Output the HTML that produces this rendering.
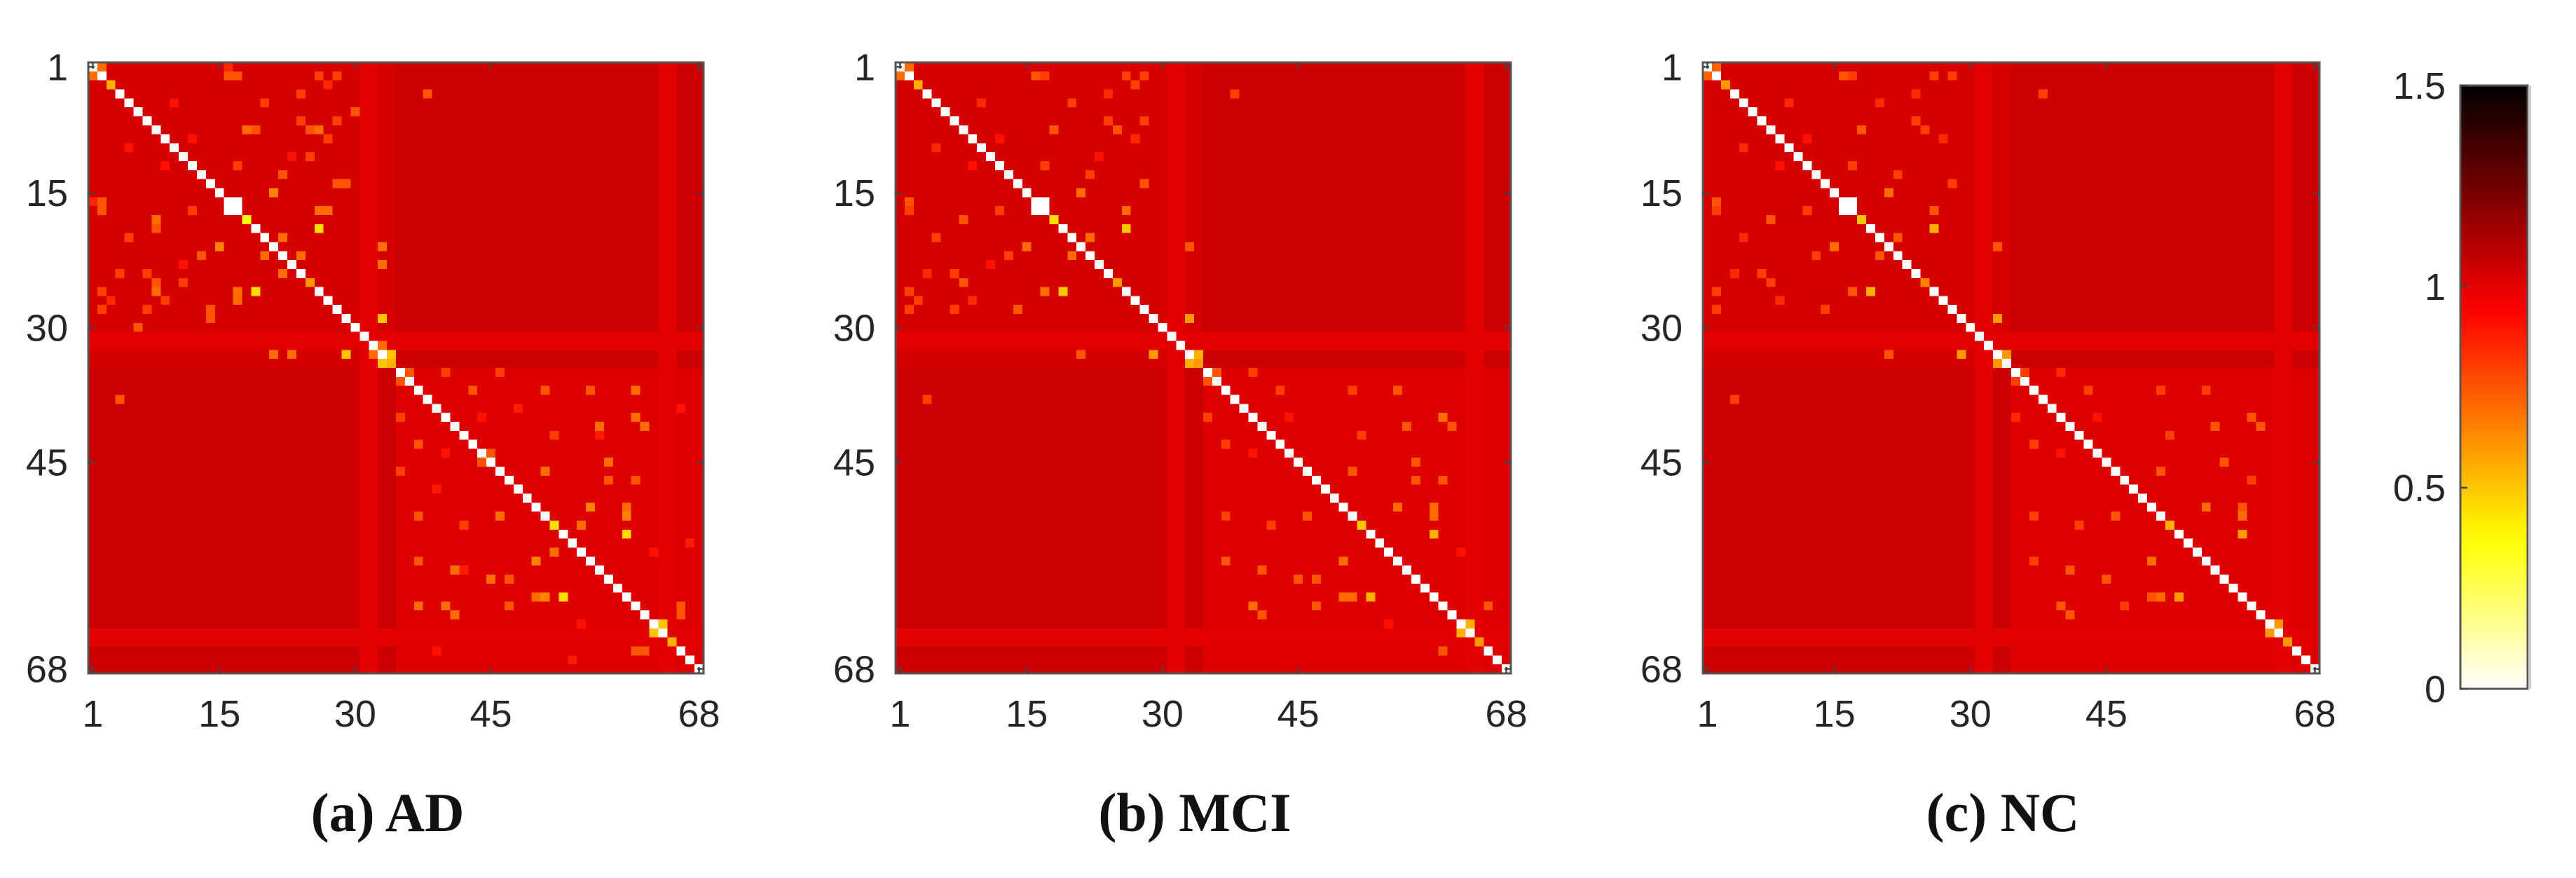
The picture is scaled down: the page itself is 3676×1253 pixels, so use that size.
<!DOCTYPE html>
<html><head><meta charset="utf-8">
<style>
html,body{margin:0;padding:0;background:#fff;}
svg{display:block;}
.sans{font-family:"Liberation Sans",sans-serif;}
.serif{font-family:"Liberation Serif",serif;}
</style></head>
<body>
<svg id="fig" width="3676" height="1253" viewBox="0 0 3676 1253" xmlns="http://www.w3.org/2000/svg">
<defs>
<linearGradient id="hotgrad" x1="0" y1="1" x2="0" y2="0"></linearGradient>
</defs>
</svg>
<script>
// ---------- data ----------
const N = 68;
const tickLabels = [1, 15, 30, 45, 68];
const cbTicks = [0, 0.5, 1, 1.5];
const cbMin = 0, cbMax = 1.5;
const panelTitles = ["(a) AD", "(b) MCI", "(c) NC"];
// block base levels: [within-left, between, within-right]
const blockBase = [1.03, 1.05, 1.01];
const bandRows = [31, 32, 64, 65];
const bandVal = 1.0;
// hotspots: [row, col, value] (symmetric)
const hotAD = [[1,2,0.7],[3,3,0.55],[2,16,0.75],[2,17,0.75],[2,26,0.8],[3,27,0.85],[8,18,0.7],[8,19,0.75],[8,25,0.75],[8,26,0.7],[16,2,0.75],[17,2,0.75],[16,1,0.85],[16,17,0],[18,18,0.35],[19,26,0.45],[17,26,0.7],[17,27,0.7],[21,15,0.65],[20,22,0.7],[22,24,0.7],[25,25,0.6],[29,33,0.5],[33,34,0.5],[34,34,0.55],[32,33,0.7],[38,4,0.75],[14,28,0.75],[13,22,0.75],[40,61,0.7],[41,57,0.7],[45,44,0.75],[52,52,0.45],[53,60,0.5],[60,53,0.45],[50,56,0.65],[51,60,0.65],[46,51,0.7],[47,58,0.75],[56,37,0.75],[62,41,0.7],[64,63,0.5],[65,65,0.55],[60,50,0.7],[58,45,0.7],[55,52,0.7],[35,36,0.75],[37,51,0.75],[37,61,0.7],[35,40,0.8],[35,46,0.8],[43,37,0.75],[42,52,0.8],[61,47,0.75],[66,61,0.75],[66,62,0.75],[20,5,0.8],[10,5,0.85],[24,7,0.8],[28,2,0.8],[27,9,0.8],[29,14,0.75],[33,21,0.7],[33,23,0.7],[12,17,0.8],[6,30,0.75],[7,28,0.8],[11,25,0.8],[4,24,0.8],[9,12,0.9],[5,10,0.9],[23,11,0.9],[44,40,0.9],[48,39,0.88],[57,42,0.88],[63,55,0.9],[39,66,0.9],[54,67,0.88]];
const hotMCI = [[1,2,0.7],[3,3,0.55],[2,16,0.75],[2,26,0.8],[3,27,0.8],[8,18,0.75],[8,25,0.75],[16,2,0.75],[17,2,0.8],[16,17,0],[18,18,0.45],[19,26,0.5],[17,26,0.7],[21,15,0.7],[20,22,0.7],[25,25,0.6],[29,33,0.6],[33,34,0.55],[34,34,0.6],[38,4,0.8],[14,28,0.75],[13,22,0.8],[40,61,0.7],[41,57,0.75],[52,52,0.5],[53,60,0.55],[60,53,0.55],[50,56,0.7],[51,60,0.7],[46,51,0.75],[47,58,0.75],[56,37,0.75],[62,41,0.75],[64,63,0.55],[65,65,0.6],[60,50,0.7],[58,45,0.75],[35,36,0.75],[37,51,0.8],[35,40,0.8],[43,37,0.8],[42,52,0.8],[61,47,0.75],[66,61,0.75],[20,5,0.8],[10,5,0.85],[24,7,0.8],[28,2,0.8],[27,9,0.85],[33,21,0.75],[12,17,0.8],[7,28,0.8],[4,24,0.85],[9,12,0.9],[23,11,0.9],[44,40,0.9],[63,55,0.9]];
const hotNC = [[1,2,0.72],[3,3,0.6],[2,16,0.8],[2,26,0.8],[8,18,0.75],[8,25,0.8],[16,2,0.75],[17,2,0.8],[16,17,0],[18,18,0.5],[19,26,0.55],[17,26,0.75],[21,15,0.7],[20,22,0.75],[25,25,0.65],[29,33,0.6],[33,34,0.6],[38,4,0.8],[14,28,0.8],[13,22,0.8],[40,61,0.75],[41,57,0.75],[52,52,0.55],[53,60,0.6],[60,53,0.6],[50,56,0.7],[51,60,0.7],[46,51,0.75],[56,37,0.8],[62,41,0.75],[64,63,0.6],[65,65,0.6],[60,50,0.75],[58,45,0.75],[35,36,0.8],[37,51,0.8],[35,40,0.85],[43,37,0.8],[42,52,0.8],[61,47,0.8],[20,5,0.85],[10,5,0.85],[24,7,0.8],[28,2,0.8],[27,9,0.85],[33,21,0.75],[12,17,0.8],[4,24,0.85],[9,12,0.9],[44,40,0.9]];
const datasets = [hotAD, hotMCI, hotNC];

// ---------- layout ----------
const panels = [{x:126,y:89,w:878,h:872},{x:1278,y:89,w:878,h:872},{x:2430,y:89,w:880,h:872}];
const cb = {x:3511,y:122,w:96,h:861};
const svg = document.getElementById('fig');
const NS = 'http://www.w3.org/2000/svg';
function mk(tag, attrs){const e=document.createElementNS(NS,tag);for(const k in attrs)e.setAttribute(k,attrs[k]);return e;}
function clamp(v){return Math.max(0,Math.min(1,v));}
function hot(v){
  const t = clamp(1-(v-cbMin)/(cbMax-cbMin));
  const r=Math.round(255*clamp(t/0.375)), g=Math.round(255*clamp((t-0.375)/0.375)), b=Math.round(255*clamp((t-0.75)/0.25));
  return `rgb(${r},${g},${b})`;
}
function buildMatrix(hots){
  const M=[];
  for(let i=1;i<=N;i++){const row=[];for(let j=1;j<=N;j++){
    const bi=i<=34?0:2, bj=j<=34?0:2;
    let v = bi===bj ? blockBase[bi] : blockBase[1];
    if(bandRows.includes(i)||bandRows.includes(j)) v=Math.min(v,bandVal);
    if(i===j) v=0;
    row.push(v);} M.push(row);}
  hots.forEach(h=>{M[h[0]-1][h[1]-1]=h[2];M[h[1]-1][h[0]-1]=h[2];});
  return M;
}

const grad = document.getElementById('hotgrad');
for(let k=0;k<=30;k++){const s=mk('stop',{offset:(k/30*100)+'%','stop-color':hot(cbMin+k/30*(cbMax-cbMin))});grad.appendChild(s);}

panels.forEach((p,pi)=>{
  const M = buildMatrix(datasets[pi]);
  const g = mk('g',{'shape-rendering':'crispEdges'});
  
  
  const cw=p.w/N, ch=p.h/N;
  const xs = j=>p.x+j*cw, ys=i=>p.y+i*ch;
  for(let i=0;i<N;i++)for(let j=0;j<N;j++){
    const r=mk('rect',{x:xs(j),y:ys(i),width:cw+0.6,height:ch+0.6,fill:hot(M[i][j])});
    
    
    g.appendChild(r);
  }
  svg.appendChild(g);
  const frame=mk('rect',{x:p.x,y:p.y,width:p.w,height:p.h,fill:'none',stroke:'#555',"stroke-width":3});
  
  
  svg.appendChild(frame);
  tickLabels.forEach(t=>{
    const cx=xs(t-0.5), cy=ys(t-0.5);
    [[cx,p.y,cx,p.y+9],[cx,p.y+p.h,cx,p.y+p.h-9],[p.x,cy,p.x+9,cy],[p.x+p.w,cy,p.x+p.w-9,cy]].forEach(l=>{
      const tk=mk('line',{x1:l[0],y1:l[1],x2:l[2],y2:l[3],stroke:'#444','stroke-width':2.5});
      
      
      svg.appendChild(tk);
    });
    const xl=mk('text',{x:cx,y:p.y+p.h+76,'text-anchor':'middle','font-size':54,fill:'#262626','class':'sans'});
    xl.textContent=t;
    
    
    svg.appendChild(xl);
    const yl=mk('text',{x:p.x-29,y:cy+19,'text-anchor':'end','font-size':54,fill:'#262626','class':'sans'});
    yl.textContent=t;
    
    
    svg.appendChild(yl);
  });
  const tt=mk('text',{x:p.x+p.w/2-12,y:1186,'text-anchor':'middle','font-size':78,'font-weight':'bold',fill:'#111','class':'serif'});
  tt.textContent=panelTitles[pi];
  
  
  svg.appendChild(tt);
});

const cbr=mk('rect',{x:cb.x,y:cb.y,width:cb.w,height:cb.h,fill:'url(#hotgrad)',stroke:'#555','stroke-width':3});


svg.appendChild(cbr);
const sh=mk('rect',{x:cb.x+cb.w+1,y:cb.y,width:4,height:cb.h,fill:'#ccc'});


svg.appendChild(sh);
cbTicks.forEach(v=>{
  const y=cb.y+cb.h*(1-(v-cbMin)/(cbMax-cbMin));
  const tk=mk('line',{x1:cb.x,y1:y,x2:cb.x+10,y2:y,stroke:'#444','stroke-width':2.5});
  
  
  svg.appendChild(tk);
  const lb=mk('text',{x:3490,y:y+19,'text-anchor':'end','font-size':54,fill:'#262626','class':'sans'});
  lb.textContent=v;
  
  
  svg.appendChild(lb);
});
</script>
</body></html>
